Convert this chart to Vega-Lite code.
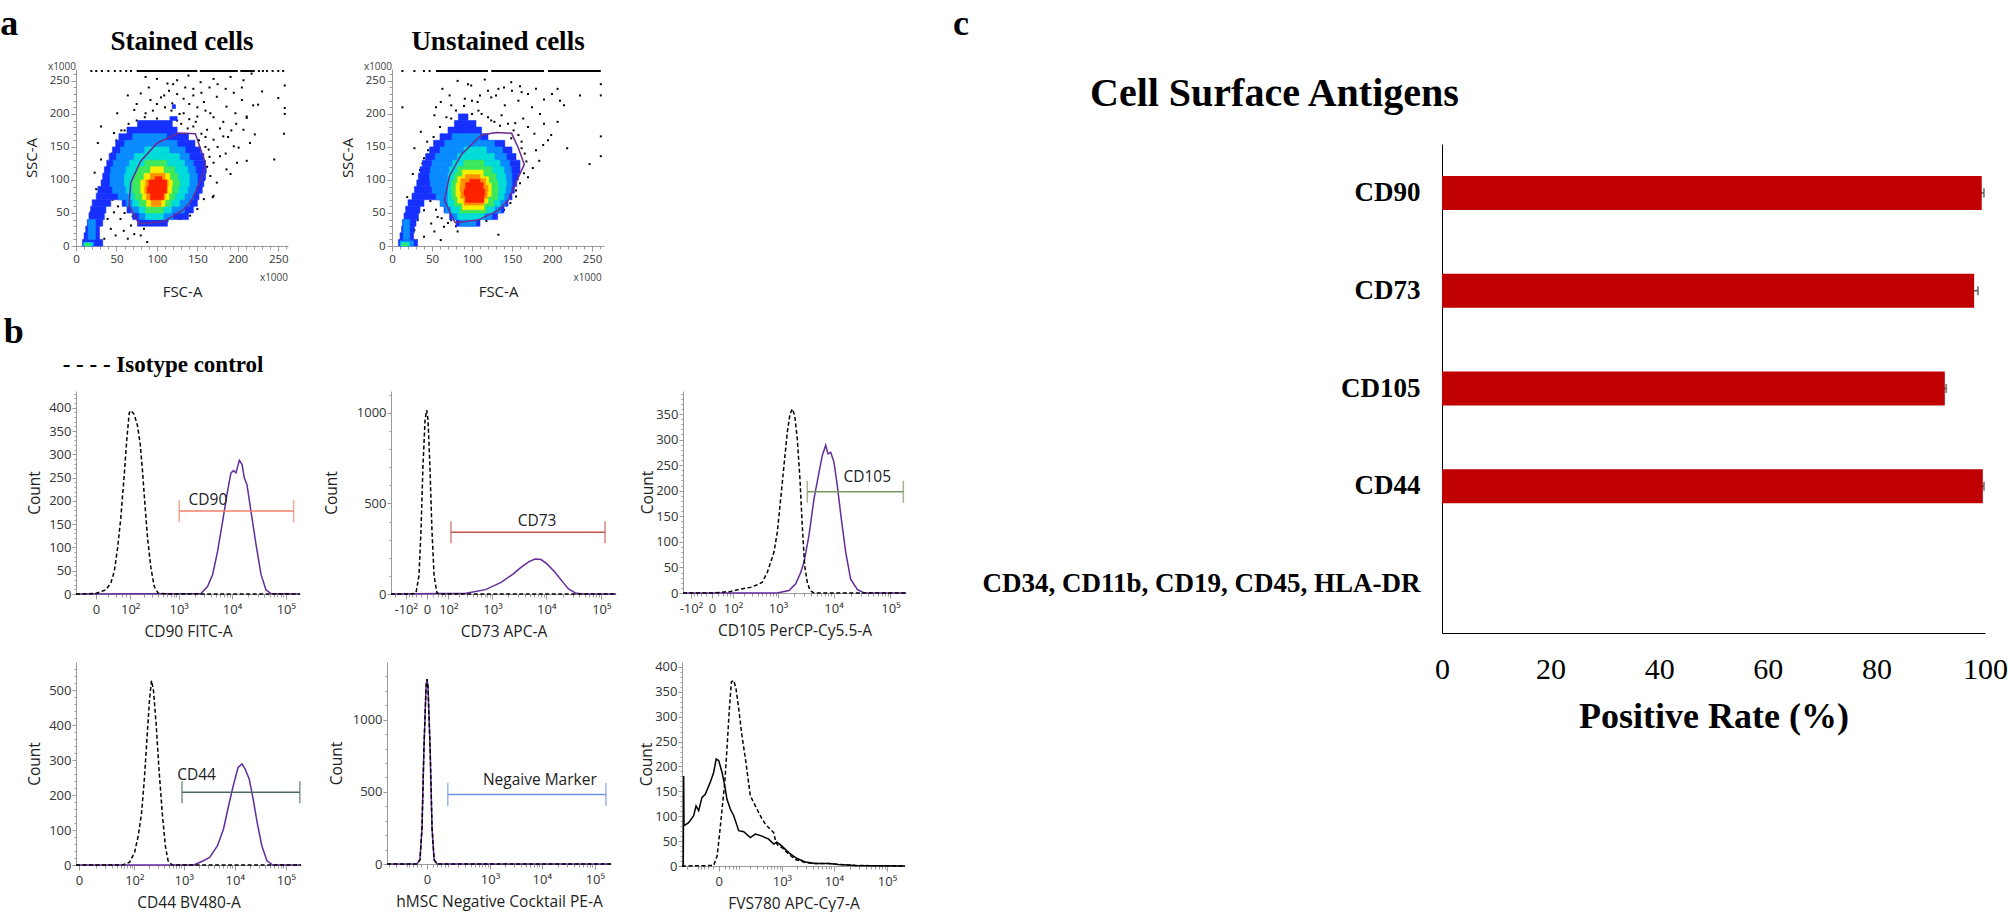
{
"$schema": "https://vega.github.io/schema/vega-lite/v6.json",
"background": "white",
"padding": {"left": 0, "top": 6, "right": 0, "bottom": 0},
"config": {
  "view": {"stroke": null},
  "title": {"font": "Liberation Serif", "fontWeight": "bold", "color": "black"},
  "axis": {"grid": false, "labelFont": "Open Sans", "titleFont": "Open Sans", "labelColor": "#333333", "titleColor": "#222222", "titleFontWeight": "normal", "domainColor": "#9a9a9a", "tickColor": "#9a9a9a", "labelOverlap": false, "labelFlush": false, "labelFontSize": 13, "titleFontSize": 15.5, "labelPadding": 1, "minExtent": 0, "tickCount": 500},
  "axisY": {"titlePadding": 6, "minExtent": 0},
  "axisX": {"titlePadding": 8, "labelPadding": 4}
},
"datasets": {
  "dens": [
    {"p":"S","l":1,"y0":0,"y1":10,"x0":8,"x1":33},{"p":"S","l":1,"y0":10,"y1":20,"x0":10,"x1":29},{"p":"S","l":1,"y0":20,"y1":30,"x0":12,"x1":29},{"p":"S","l":1,"y0":30,"y1":40,"x0":14,"x1":33},{"p":"S","l":1,"y0":30,"y1":40,"x0":76,"x1":113},{"p":"S","l":1,"y0":40,"y1":50,"x0":16,"x1":35},{"p":"S","l":1,"y0":40,"y1":50,"x0":70,"x1":139},{"p":"S","l":1,"y0":50,"y1":60,"x0":18,"x1":37},{"p":"S","l":1,"y0":50,"y1":60,"x0":63,"x1":145},{"p":"S","l":1,"y0":60,"y1":70,"x0":20,"x1":43},{"p":"S","l":1,"y0":60,"y1":70,"x0":57,"x1":150},{"p":"S","l":1,"y0":70,"y1":80,"x0":25,"x1":152},{"p":"S","l":1,"y0":80,"y1":90,"x0":27,"x1":156},{"p":"S","l":1,"y0":90,"y1":100,"x0":31,"x1":158},{"p":"S","l":1,"y0":100,"y1":110,"x0":33,"x1":160},{"p":"S","l":1,"y0":110,"y1":120,"x0":35,"x1":161},{"p":"S","l":1,"y0":120,"y1":130,"x0":38,"x1":160},{"p":"S","l":1,"y0":130,"y1":140,"x0":41,"x1":158},{"p":"S","l":1,"y0":140,"y1":150,"x0":45,"x1":154},{"p":"S","l":1,"y0":150,"y1":160,"x0":49,"x1":147},{"p":"S","l":1,"y0":160,"y1":170,"x0":53,"x1":139},{"p":"S","l":1,"y0":170,"y1":180,"x0":63,"x1":125},{"p":"S","l":1,"y0":180,"y1":190,"x0":76,"x1":119},{"p":"S","l":1,"y0":190,"y1":196,"x0":116,"x1":125},{"p":"S","l":1,"y0":208,"y1":214,"x0":119,"x1":123},
    {"p":"S","l":2,"y0":0,"y1":6,"x0":9,"x1":22},{"p":"S","l":2,"y0":10,"y1":40,"x0":15,"x1":24},{"p":"S","l":2,"y0":40,"y1":50,"x0":78,"x1":120},{"p":"S","l":2,"y0":50,"y1":60,"x0":68,"x1":134},{"p":"S","l":2,"y0":60,"y1":70,"x0":62,"x1":140},{"p":"S","l":2,"y0":70,"y1":80,"x0":52,"x1":145},{"p":"S","l":2,"y0":80,"y1":90,"x0":45,"x1":148},{"p":"S","l":2,"y0":90,"y1":100,"x0":42,"x1":150},{"p":"S","l":2,"y0":100,"y1":110,"x0":42,"x1":150},{"p":"S","l":2,"y0":110,"y1":120,"x0":43,"x1":148},{"p":"S","l":2,"y0":120,"y1":130,"x0":46,"x1":145},{"p":"S","l":2,"y0":130,"y1":140,"x0":50,"x1":140},{"p":"S","l":2,"y0":140,"y1":150,"x0":55,"x1":135},{"p":"S","l":2,"y0":150,"y1":160,"x0":60,"x1":125},{"p":"S","l":2,"y0":160,"y1":170,"x0":70,"x1":112},
    {"p":"S","l":3,"y0":0,"y1":5,"x0":10,"x1":20},{"p":"S","l":3,"y0":40,"y1":50,"x0":86,"x1":108},{"p":"S","l":3,"y0":50,"y1":60,"x0":78,"x1":118},{"p":"S","l":3,"y0":60,"y1":70,"x0":70,"x1":128},{"p":"S","l":3,"y0":70,"y1":80,"x0":66,"x1":134},{"p":"S","l":3,"y0":80,"y1":90,"x0":62,"x1":138},{"p":"S","l":3,"y0":90,"y1":100,"x0":60,"x1":140},{"p":"S","l":3,"y0":100,"y1":110,"x0":60,"x1":140},{"p":"S","l":3,"y0":110,"y1":120,"x0":62,"x1":138},{"p":"S","l":3,"y0":120,"y1":130,"x0":66,"x1":134},{"p":"S","l":3,"y0":130,"y1":140,"x0":72,"x1":128},{"p":"S","l":3,"y0":140,"y1":150,"x0":85,"x1":115},
    {"p":"S","l":4,"y0":0,"y1":4,"x0":11,"x1":17},{"p":"S","l":4,"y0":50,"y1":60,"x0":86,"x1":108},{"p":"S","l":4,"y0":60,"y1":70,"x0":78,"x1":117},{"p":"S","l":4,"y0":70,"y1":80,"x0":73,"x1":122},{"p":"S","l":4,"y0":80,"y1":90,"x0":70,"x1":126},{"p":"S","l":4,"y0":90,"y1":100,"x0":70,"x1":128},{"p":"S","l":4,"y0":100,"y1":110,"x0":72,"x1":126},{"p":"S","l":4,"y0":110,"y1":120,"x0":76,"x1":122},{"p":"S","l":4,"y0":120,"y1":130,"x0":85,"x1":112},
    {"p":"S","l":5,"y0":60,"y1":70,"x0":87,"x1":110},{"p":"S","l":5,"y0":70,"y1":80,"x0":82,"x1":115},{"p":"S","l":5,"y0":80,"y1":90,"x0":80,"x1":118},{"p":"S","l":5,"y0":90,"y1":100,"x0":80,"x1":119},{"p":"S","l":5,"y0":100,"y1":110,"x0":84,"x1":116},{"p":"S","l":5,"y0":110,"y1":120,"x0":92,"x1":108},
    {"p":"S","l":6,"y0":60,"y1":70,"x0":93,"x1":105},{"p":"S","l":6,"y0":70,"y1":80,"x0":87,"x1":110},{"p":"S","l":6,"y0":80,"y1":90,"x0":85,"x1":113},{"p":"S","l":6,"y0":90,"y1":100,"x0":86,"x1":114},{"p":"S","l":6,"y0":100,"y1":110,"x0":92,"x1":110},
    {"p":"S","l":7,"y0":70,"y1":80,"x0":92,"x1":108},{"p":"S","l":7,"y0":80,"y1":90,"x0":88,"x1":112},{"p":"S","l":7,"y0":90,"y1":100,"x0":90,"x1":112},{"p":"S","l":7,"y0":100,"y1":105,"x0":98,"x1":106},
    {"p":"U","l":1,"y0":0,"y1":10,"x0":8,"x1":32},{"p":"U","l":1,"y0":10,"y1":20,"x0":10,"x1":27},{"p":"U","l":1,"y0":20,"y1":30,"x0":12,"x1":28},{"p":"U","l":1,"y0":30,"y1":40,"x0":13,"x1":30},{"p":"U","l":1,"y0":30,"y1":40,"x0":80,"x1":110},{"p":"U","l":1,"y0":40,"y1":50,"x0":15,"x1":33},{"p":"U","l":1,"y0":40,"y1":50,"x0":72,"x1":132},{"p":"U","l":1,"y0":50,"y1":60,"x0":17,"x1":35},{"p":"U","l":1,"y0":50,"y1":60,"x0":65,"x1":140},{"p":"U","l":1,"y0":60,"y1":70,"x0":20,"x1":40},{"p":"U","l":1,"y0":60,"y1":70,"x0":62,"x1":145},{"p":"U","l":1,"y0":70,"y1":80,"x0":25,"x1":150},{"p":"U","l":1,"y0":80,"y1":90,"x0":28,"x1":153},{"p":"U","l":1,"y0":90,"y1":100,"x0":31,"x1":156},{"p":"U","l":1,"y0":100,"y1":110,"x0":33,"x1":158},{"p":"U","l":1,"y0":110,"y1":120,"x0":35,"x1":160},{"p":"U","l":1,"y0":120,"y1":130,"x0":38,"x1":160},{"p":"U","l":1,"y0":130,"y1":140,"x0":42,"x1":155},{"p":"U","l":1,"y0":140,"y1":150,"x0":47,"x1":150},{"p":"U","l":1,"y0":150,"y1":160,"x0":52,"x1":141},{"p":"U","l":1,"y0":160,"y1":170,"x0":60,"x1":120},{"p":"U","l":1,"y0":170,"y1":180,"x0":70,"x1":112},{"p":"U","l":1,"y0":180,"y1":190,"x0":78,"x1":105},{"p":"U","l":1,"y0":190,"y1":200,"x0":83,"x1":95},
    {"p":"U","l":2,"y0":0,"y1":8,"x0":10,"x1":27},{"p":"U","l":2,"y0":10,"y1":40,"x0":14,"x1":22},{"p":"U","l":2,"y0":30,"y1":40,"x0":85,"x1":105},{"p":"U","l":2,"y0":40,"y1":50,"x0":75,"x1":125},{"p":"U","l":2,"y0":50,"y1":60,"x0":66,"x1":136},{"p":"U","l":2,"y0":60,"y1":70,"x0":60,"x1":142},{"p":"U","l":2,"y0":70,"y1":80,"x0":55,"x1":146},{"p":"U","l":2,"y0":80,"y1":90,"x0":50,"x1":149},{"p":"U","l":2,"y0":90,"y1":100,"x0":48,"x1":150},{"p":"U","l":2,"y0":100,"y1":110,"x0":47,"x1":150},{"p":"U","l":2,"y0":110,"y1":120,"x0":48,"x1":149},{"p":"U","l":2,"y0":120,"y1":130,"x0":50,"x1":147},{"p":"U","l":2,"y0":130,"y1":140,"x0":54,"x1":143},{"p":"U","l":2,"y0":140,"y1":150,"x0":60,"x1":138},{"p":"U","l":2,"y0":150,"y1":160,"x0":66,"x1":128},{"p":"U","l":2,"y0":160,"y1":170,"x0":75,"x1":110},
    {"p":"U","l":3,"y0":0,"y1":6,"x0":11,"x1":22},{"p":"U","l":3,"y0":40,"y1":50,"x0":82,"x1":115},{"p":"U","l":3,"y0":50,"y1":60,"x0":74,"x1":128},{"p":"U","l":3,"y0":60,"y1":70,"x0":70,"x1":135},{"p":"U","l":3,"y0":70,"y1":80,"x0":70,"x1":140},{"p":"U","l":3,"y0":80,"y1":90,"x0":70,"x1":142},{"p":"U","l":3,"y0":90,"y1":100,"x0":70,"x1":143},{"p":"U","l":3,"y0":100,"y1":110,"x0":70,"x1":142},{"p":"U","l":3,"y0":110,"y1":120,"x0":72,"x1":140},{"p":"U","l":3,"y0":120,"y1":130,"x0":76,"x1":135},{"p":"U","l":3,"y0":130,"y1":140,"x0":82,"x1":128},{"p":"U","l":3,"y0":140,"y1":150,"x0":90,"x1":118},
    {"p":"U","l":4,"y0":0,"y1":4,"x0":13,"x1":19},{"p":"U","l":4,"y0":50,"y1":60,"x0":85,"x1":118},{"p":"U","l":4,"y0":60,"y1":70,"x0":78,"x1":127},{"p":"U","l":4,"y0":70,"y1":80,"x0":75,"x1":132},{"p":"U","l":4,"y0":80,"y1":90,"x0":74,"x1":133},{"p":"U","l":4,"y0":90,"y1":100,"x0":75,"x1":132},{"p":"U","l":4,"y0":100,"y1":110,"x0":78,"x1":130},{"p":"U","l":4,"y0":110,"y1":120,"x0":82,"x1":125},{"p":"U","l":4,"y0":120,"y1":130,"x0":90,"x1":115},
    {"p":"U","l":5,"y0":55,"y1":65,"x0":88,"x1":115},{"p":"U","l":5,"y0":65,"y1":75,"x0":82,"x1":120},{"p":"U","l":5,"y0":75,"y1":85,"x0":80,"x1":124},{"p":"U","l":5,"y0":85,"y1":95,"x0":80,"x1":124},{"p":"U","l":5,"y0":95,"y1":105,"x0":82,"x1":121},{"p":"U","l":5,"y0":105,"y1":115,"x0":88,"x1":114},
    {"p":"U","l":6,"y0":62,"y1":72,"x0":90,"x1":114},{"p":"U","l":6,"y0":72,"y1":82,"x0":86,"x1":119},{"p":"U","l":6,"y0":82,"y1":92,"x0":85,"x1":120},{"p":"U","l":6,"y0":92,"y1":102,"x0":86,"x1":117},{"p":"U","l":6,"y0":102,"y1":108,"x0":92,"x1":110},
    {"p":"U","l":7,"y0":66,"y1":76,"x0":92,"x1":115},{"p":"U","l":7,"y0":76,"y1":86,"x0":90,"x1":116},{"p":"U","l":7,"y0":86,"y1":96,"x0":92,"x1":114},{"p":"U","l":7,"y0":96,"y1":101,"x0":97,"x1":110}
  ],
  "dots": [
    {"p":"S","x":86,"y":256},{"p":"S","x":100,"y":253},{"p":"S","x":113,"y":246},{"p":"S","x":125,"y":251},{"p":"S","x":139,"y":258},{"p":"S","x":154,"y":248},{"p":"S","x":170,"y":253},{"p":"S","x":191,"y":256},{"p":"S","x":207,"y":251},{"p":"S","x":217,"y":261},{"p":"S","x":64,"y":228},{"p":"S","x":80,"y":231},{"p":"S","x":92,"y":221},{"p":"S","x":109,"y":228},{"p":"S","x":119,"y":216},{"p":"S","x":133,"y":223},{"p":"S","x":145,"y":228},{"p":"S","x":158,"y":218},{"p":"S","x":174,"y":226},{"p":"S","x":186,"y":211},{"p":"S","x":205,"y":221},{"p":"S","x":219,"y":213},{"p":"S","x":51,"y":201},{"p":"S","x":72,"y":206},{"p":"S","x":86,"y":201},{"p":"S","x":100,"y":193},{"p":"S","x":133,"y":201},{"p":"S","x":150,"y":196},{"p":"S","x":166,"y":201},{"p":"S","x":182,"y":188},{"p":"S","x":197,"y":201},{"p":"S","x":211,"y":196},{"p":"S","x":31,"y":181},{"p":"S","x":47,"y":171},{"p":"S","x":145,"y":181},{"p":"S","x":162,"y":176},{"p":"S","x":170,"y":161},{"p":"S","x":182,"y":166},{"p":"S","x":195,"y":151},{"p":"S","x":207,"y":176},{"p":"S","x":215,"y":156},{"p":"S","x":27,"y":156},{"p":"S","x":31,"y":131},{"p":"S","x":164,"y":146},{"p":"S","x":170,"y":126},{"p":"S","x":178,"y":136},{"p":"S","x":186,"y":116},{"p":"S","x":199,"y":126},{"p":"S","x":166,"y":106},{"p":"S","x":174,"y":96},{"p":"S","x":170,"y":76},{"p":"S","x":158,"y":71},{"p":"S","x":150,"y":56},{"p":"S","x":141,"y":46},{"p":"S","x":39,"y":41},{"p":"S","x":43,"y":26},{"p":"S","x":49,"y":16},{"p":"S","x":35,"y":11},{"p":"S","x":59,"y":23},{"p":"S","x":68,"y":31},{"p":"S","x":55,"y":41},{"p":"S","x":47,"y":51},{"p":"S","x":72,"y":18},{"p":"S","x":84,"y":26},{"p":"S","x":96,"y":33},{"p":"S","x":113,"y":38},{"p":"S","x":129,"y":41},{"p":"S","x":88,"y":6},{"p":"S","x":64,"y":11},{"p":"S","x":80,"y":16},{"p":"S","x":23,"y":111},{"p":"S","x":25,"y":86},{"p":"S","x":27,"y":66},{"p":"S","x":35,"y":96},{"p":"S","x":18,"y":51},{"p":"S","x":258,"y":243},{"p":"S","x":258,"y":209},{"p":"S","x":258,"y":200},{"p":"S","x":257,"y":170},{"p":"S","x":245,"y":131},{"p":"S","x":250,"y":224},{"p":"S","x":225,"y":214},{"p":"S","x":230,"y":234},{"p":"S","x":211,"y":194},{"p":"S","x":221,"y":169},{"p":"S","x":201,"y":149},{"p":"S","x":211,"y":129},{"p":"S","x":191,"y":109},{"p":"S","x":169,"y":74},
    {"p":"S","x":125,"y":190},{"p":"S","x":130,"y":185},{"p":"S","x":140,"y":192},{"p":"S","x":148,"y":188},{"p":"S","x":155,"y":170},{"p":"S","x":160,"y":165},{"p":"S","x":138,"y":178},{"p":"S","x":128,"y":200},{"p":"S","x":118,"y":205},{"p":"S","x":110,"y":210},{"p":"S","x":100,"y":215},{"p":"S","x":95,"y":205},{"p":"S","x":85,"y":195},{"p":"S","x":75,"y":190},{"p":"S","x":65,"y":185},{"p":"S","x":60,"y":175},{"p":"S","x":152,"y":160},{"p":"S","x":160,"y":150},{"p":"S","x":165,"y":135},{"p":"S","x":162,"y":120},{"p":"S","x":158,"y":100},{"p":"S","x":155,"y":90},{"p":"S","x":150,"y":80},{"p":"S","x":145,"y":70},{"p":"S","x":135,"y":60},{"p":"S","x":125,"y":50},{"p":"S","x":115,"y":45},{"p":"S","x":100,"y":40},{"p":"S","x":90,"y":40},{"p":"S","x":80,"y":38},{"p":"S","x":70,"y":45},{"p":"S","x":60,"y":50},{"p":"S","x":52,"y":60},{"p":"S","x":45,"y":70},{"p":"S","x":40,"y":80},{"p":"S","x":38,"y":90},{"p":"S","x":35,"y":105},{"p":"S","x":40,"y":120},{"p":"S","x":44,"y":140},{"p":"S","x":50,"y":160},{"p":"S","x":56,"y":175},{"p":"S","x":105,"y":225},{"p":"S","x":115,"y":235},{"p":"S","x":125,"y":230},{"p":"S","x":135,"y":240},{"p":"S","x":145,"y":238},{"p":"S","x":155,"y":232},{"p":"S","x":165,"y":240},{"p":"S","x":175,"y":245},{"p":"S","x":185,"y":238},{"p":"S","x":195,"y":232},{"p":"S","x":205,"y":240},{"p":"S","x":120,"y":245},{"p":"S","x":90,"y":240},{"p":"S","x":75,"y":215},{"p":"S","x":140,"y":215},{"p":"S","x":150,"y":210},{"p":"S","x":160,"y":205},{"p":"S","x":170,"y":195},{"p":"S","x":178,"y":178},{"p":"S","x":188,"y":165},{"p":"S","x":175,"y":150},{"p":"S","x":185,"y":140},{"p":"S","x":192,"y":175},{"p":"S","x":198,"y":185},
    {"p":"S","x":19,"y":265},{"p":"S","x":25,"y":265},{"p":"S","x":32,"y":265},{"p":"S","x":40,"y":265},{"p":"S","x":48,"y":265},{"p":"S","x":55,"y":265},{"p":"S","x":62,"y":265},{"p":"S","x":68,"y":265},{"p":"S","x":226,"y":265},{"p":"S","x":231,"y":265},{"p":"S","x":236,"y":265},{"p":"S","x":243,"y":265},{"p":"S","x":250,"y":265},{"p":"S","x":256,"y":265},
    {"p":"U","x":13,"y":210},{"p":"U","x":63,"y":238},{"p":"U","x":82,"y":250},{"p":"U","x":99,"y":243},{"p":"U","x":116,"y":252},{"p":"U","x":133,"y":238},{"p":"U","x":149,"y":248},{"p":"U","x":162,"y":233},{"p":"U","x":61,"y":218},{"p":"U","x":74,"y":213},{"p":"U","x":91,"y":223},{"p":"U","x":107,"y":218},{"p":"U","x":124,"y":225},{"p":"U","x":141,"y":213},{"p":"U","x":158,"y":220},{"p":"U","x":53,"y":198},{"p":"U","x":74,"y":193},{"p":"U","x":112,"y":200},{"p":"U","x":124,"y":190},{"p":"U","x":137,"y":198},{"p":"U","x":154,"y":186},{"p":"U","x":164,"y":193},{"p":"U","x":36,"y":173},{"p":"U","x":44,"y":158},{"p":"U","x":149,"y":163},{"p":"U","x":162,"y":148},{"p":"U","x":40,"y":133},{"p":"U","x":28,"y":148},{"p":"U","x":26,"y":109},{"p":"U","x":19,"y":74},{"p":"U","x":32,"y":39},{"p":"U","x":40,"y":54},{"p":"U","x":49,"y":34},{"p":"U","x":57,"y":44},{"p":"U","x":40,"y":14},{"p":"U","x":53,"y":22},{"p":"U","x":65,"y":29},{"p":"U","x":74,"y":39},{"p":"U","x":28,"y":24},{"p":"U","x":61,"y":9},{"p":"U","x":82,"y":22},{"p":"U","x":133,"y":17},{"p":"U","x":261,"y":245},{"p":"U","x":261,"y":228},{"p":"U","x":261,"y":166},{"p":"U","x":261,"y":136},{"p":"U","x":247,"y":124},{"p":"U","x":235,"y":228},{"p":"U","x":215,"y":213},{"p":"U","x":207,"y":188},{"p":"U","x":199,"y":168},{"p":"U","x":189,"y":153},{"p":"U","x":219,"y":148},{"p":"U","x":207,"y":238},{"p":"U","x":184,"y":129},{"p":"U","x":170,"y":104},{"p":"U","x":155,"y":84},
    {"p":"U","x":120,"y":195},{"p":"U","x":128,"y":188},{"p":"U","x":135,"y":182},{"p":"U","x":145,"y":185},{"p":"U","x":152,"y":175},{"p":"U","x":158,"y":168},{"p":"U","x":162,"y":158},{"p":"U","x":166,"y":140},{"p":"U","x":168,"y":128},{"p":"U","x":165,"y":110},{"p":"U","x":160,"y":95},{"p":"U","x":155,"y":75},{"p":"U","x":148,"y":65},{"p":"U","x":140,"y":55},{"p":"U","x":130,"y":45},{"p":"U","x":118,"y":38},{"p":"U","x":105,"y":35},{"p":"U","x":92,"y":33},{"p":"U","x":80,"y":30},{"p":"U","x":70,"y":35},{"p":"U","x":62,"y":42},{"p":"U","x":55,"y":55},{"p":"U","x":48,"y":68},{"p":"U","x":42,"y":80},{"p":"U","x":38,"y":95},{"p":"U","x":35,"y":115},{"p":"U","x":38,"y":125},{"p":"U","x":45,"y":145},{"p":"U","x":52,"y":165},{"p":"U","x":60,"y":180},{"p":"U","x":68,"y":195},{"p":"U","x":80,"y":205},{"p":"U","x":90,"y":212},{"p":"U","x":100,"y":220},{"p":"U","x":110,"y":228},{"p":"U","x":120,"y":235},{"p":"U","x":130,"y":228},{"p":"U","x":140,"y":240},{"p":"U","x":150,"y":235},{"p":"U","x":160,"y":242},{"p":"U","x":170,"y":230},{"p":"U","x":180,"y":238},{"p":"U","x":190,"y":222},{"p":"U","x":200,"y":230},{"p":"U","x":210,"y":220},{"p":"U","x":175,"y":210},{"p":"U","x":185,"y":200},{"p":"U","x":170,"y":180},{"p":"U","x":178,"y":170},{"p":"U","x":190,"y":185},{"p":"U","x":195,"y":160},{"p":"U","x":180,"y":145},{"p":"U","x":176,"y":118},{"p":"U","x":95,"y":245},{"p":"U","x":72,"y":228},{"p":"U","x":55,"y":210},{"p":"U","x":108,"y":205},{"p":"U","x":100,"y":200},
    {"p":"U","x":13,"y":265},{"p":"U","x":28,"y":265},{"p":"U","x":40,"y":265},{"p":"U","x":47,"y":265}
  ],
  "tops": [
    {"p":"S","x0":75,"x1":150,"y":265},{"p":"S","x0":153,"x1":200,"y":265},{"p":"S","x0":203,"x1":221,"y":265},
    {"p":"U","x0":55,"x1":120,"y":265},{"p":"U","x0":124,"x1":190,"y":265},{"p":"U","x0":195,"x1":261,"y":265}
  ],
  "gatepoly": [
    {"p":"S","i":0,"x":77.9,"y":33.5},{"p":"S","i":1,"x":65.6,"y":61},{"p":"S","i":2,"x":67.6,"y":96},{"p":"S","i":3,"x":79.9,"y":128.5},{"p":"S","i":4,"x":100.4,"y":156},{"p":"S","i":5,"x":127,"y":171},{"p":"S","i":6,"x":147.5,"y":170},{"p":"S","i":7,"x":159.8,"y":126},{"p":"S","i":8,"x":157.8,"y":111},{"p":"S","i":9,"x":149.6,"y":86},{"p":"S","i":10,"x":141.4,"y":66},{"p":"S","i":11,"x":131,"y":53.5},{"p":"S","i":12,"x":108.6,"y":37},{"p":"S","i":13,"x":77.9,"y":33.5},
    {"p":"U","i":0,"x":78.9,"y":35.2},{"p":"U","i":1,"x":65.5,"y":69},{"p":"U","i":2,"x":71.8,"y":106},{"p":"U","i":3,"x":86.5,"y":138.4},{"p":"U","i":4,"x":111.7,"y":168},{"p":"U","i":5,"x":130.6,"y":172},{"p":"U","i":6,"x":149.5,"y":170.6},{"p":"U","i":7,"x":157.9,"y":148.3},{"p":"U","i":8,"x":165.4,"y":123.5},{"p":"U","i":9,"x":155.8,"y":98.7},{"p":"U","i":10,"x":145.3,"y":69},{"p":"U","i":11,"x":132.7,"y":54},{"p":"U","i":12,"x":107.5,"y":39.2},{"p":"U","i":13,"x":78.9,"y":35.2}
  ],
  "mult": [
    {"p":"S","x":0,"y":271,"t":"x1000"},{"p":"S","x":262,"y":-48,"t":"x1000"},
    {"p":"U","x":0,"y":271,"t":"x1000"},{"p":"U","x":262,"y":-48,"t":"x1000"}
  ],
  "hist": [
    {"panel":"CD90","s":"S","v":-40,"c":0},{"panel":"CD90","s":"S","v":2637,"c":1},{"panel":"CD90","s":"S","v":3500,"c":16},{"panel":"CD90","s":"S","v":4370,"c":42},{"panel":"CD90","s":"S","v":5400,"c":92},{"panel":"CD90","s":"S","v":6700,"c":156},{"panel":"CD90","s":"S","v":8070,"c":214},{"panel":"CD90","s":"S","v":9570,"c":260},{"panel":"CD90","s":"S","v":10700,"c":265},{"panel":"CD90","s":"S","v":11860,"c":260},{"panel":"CD90","s":"S","v":13700,"c":287},{"panel":"CD90","s":"S","v":15400,"c":278},{"panel":"CD90","s":"S","v":17000,"c":249},{"panel":"CD90","s":"S","v":19000,"c":235},{"panel":"CD90","s":"S","v":22500,"c":178},{"panel":"CD90","s":"S","v":28000,"c":106},{"panel":"CD90","s":"S","v":34600,"c":42},{"panel":"CD90","s":"S","v":42700,"c":9},{"panel":"CD90","s":"S","v":53000,"c":1},{"panel":"CD90","s":"S","v":183000,"c":0},
    {"panel":"CD90","s":"I","v":-40,"c":0},{"panel":"CD90","s":"I","v":0,"c":1},{"panel":"CD90","s":"I","v":16,"c":9},{"panel":"CD90","s":"I","v":27,"c":24},{"panel":"CD90","s":"I","v":36,"c":49},{"panel":"CD90","s":"I","v":46,"c":99},{"panel":"CD90","s":"I","v":57,"c":163},{"panel":"CD90","s":"I","v":71,"c":257},{"panel":"CD90","s":"I","v":83,"c":335},{"panel":"CD90","s":"I","v":95,"c":389},{"panel":"CD90","s":"I","v":104,"c":394},{"panel":"CD90","s":"I","v":124,"c":386},{"panel":"CD90","s":"I","v":148,"c":361},{"panel":"CD90","s":"I","v":170,"c":321},{"panel":"CD90","s":"I","v":190,"c":264},{"panel":"CD90","s":"I","v":214,"c":192},{"panel":"CD90","s":"I","v":243,"c":120},{"panel":"CD90","s":"I","v":285,"c":56},{"panel":"CD90","s":"I","v":333,"c":16},{"panel":"CD90","s":"I","v":399,"c":2},{"panel":"CD90","s":"I","v":600,"c":0},{"panel":"CD90","s":"I","v":183000,"c":0},
    {"panel":"CD73","s":"S","v":-244,"c":0},{"panel":"CD73","s":"S","v":286,"c":4},{"panel":"CD73","s":"S","v":731,"c":24},{"panel":"CD73","s":"S","v":1460,"c":64},{"panel":"CD73","s":"S","v":2450,"c":110},{"panel":"CD73","s":"S","v":3440,"c":147},{"panel":"CD73","s":"S","v":4840,"c":179},{"panel":"CD73","s":"S","v":6230,"c":193},{"panel":"CD73","s":"S","v":8020,"c":190},{"panel":"CD73","s":"S","v":10320,"c":166},{"panel":"CD73","s":"S","v":14420,"c":120},{"panel":"CD73","s":"S","v":20160,"c":64},{"panel":"CD73","s":"S","v":25340,"c":28},{"panel":"CD73","s":"S","v":34720,"c":4},{"panel":"CD73","s":"S","v":48440,"c":0},{"panel":"CD73","s":"S","v":184000,"c":0},
    {"panel":"CD73","s":"I","v":-244,"c":0},{"panel":"CD73","s":"I","v":-66,"c":0},{"panel":"CD73","s":"I","v":-41,"c":5},{"panel":"CD73","s":"I","v":-28,"c":100},{"panel":"CD73","s":"I","v":-20,"c":350},{"panel":"CD73","s":"I","v":-13,"c":700},{"panel":"CD73","s":"I","v":-6,"c":960},{"panel":"CD73","s":"I","v":-1,"c":1015},{"panel":"CD73","s":"I","v":3,"c":960},{"panel":"CD73","s":"I","v":9,"c":700},{"panel":"CD73","s":"I","v":16,"c":350},{"panel":"CD73","s":"I","v":24,"c":100},{"panel":"CD73","s":"I","v":36,"c":5},{"panel":"CD73","s":"I","v":55,"c":0},{"panel":"CD73","s":"I","v":184000,"c":0},
    {"panel":"CD105","s":"S","v":-166,"c":0},{"panel":"CD105","s":"S","v":956,"c":0},{"panel":"CD105","s":"S","v":1597,"c":5},{"panel":"CD105","s":"S","v":2118,"c":18},{"panel":"CD105","s":"S","v":2610,"c":40},{"panel":"CD105","s":"S","v":2985,"c":60},{"panel":"CD105","s":"S","v":3665,"c":112},{"panel":"CD105","s":"S","v":4508,"c":184},{"panel":"CD105","s":"S","v":5535,"c":236},{"panel":"CD105","s":"S","v":6340,"c":269},{"panel":"CD105","s":"S","v":7275,"c":289},{"panel":"CD105","s":"S","v":7990,"c":272},{"panel":"CD105","s":"S","v":8910,"c":275},{"panel":"CD105","s":"S","v":10190,"c":256},{"panel":"CD105","s":"S","v":11650,"c":210},{"panel":"CD105","s":"S","v":13710,"c":145},{"panel":"CD105","s":"S","v":16380,"c":80},{"panel":"CD105","s":"S","v":20030,"c":27},{"panel":"CD105","s":"S","v":26180,"c":7},{"panel":"CD105","s":"S","v":34360,"c":0},{"panel":"CD105","s":"S","v":187000,"c":0},
    {"panel":"CD105","s":"I","v":-166,"c":0},{"panel":"CD105","s":"I","v":0,"c":0},{"panel":"CD105","s":"I","v":84,"c":3},{"panel":"CD105","s":"I","v":197,"c":9},{"panel":"CD105","s":"I","v":282,"c":11},{"panel":"CD105","s":"I","v":391,"c":16},{"panel":"CD105","s":"I","v":495,"c":21},{"panel":"CD105","s":"I","v":622,"c":40},{"panel":"CD105","s":"I","v":725,"c":60},{"panel":"CD105","s":"I","v":839,"c":80},{"panel":"CD105","s":"I","v":969,"c":119},{"panel":"CD105","s":"I","v":1122,"c":184},{"panel":"CD105","s":"I","v":1292,"c":249},{"panel":"CD105","s":"I","v":1487,"c":314},{"panel":"CD105","s":"I","v":1665,"c":350},{"panel":"CD105","s":"I","v":1838,"c":360},{"panel":"CD105","s":"I","v":2032,"c":347},{"panel":"CD105","s":"I","v":2265,"c":301},{"panel":"CD105","s":"I","v":2528,"c":223},{"panel":"CD105","s":"I","v":2782,"c":132},{"panel":"CD105","s":"I","v":3076,"c":53},{"panel":"CD105","s":"I","v":3428,"c":21},{"panel":"CD105","s":"I","v":3825,"c":5},{"panel":"CD105","s":"I","v":4508,"c":0},{"panel":"CD105","s":"I","v":187000,"c":0},
    {"panel":"CD44","s":"S","v":-1.3,"c":0},{"panel":"CD44","s":"S","v":1576,"c":0},{"panel":"CD44","s":"S","v":2254,"c":10},{"panel":"CD44","s":"S","v":3222,"c":22},{"panel":"CD44","s":"S","v":4600,"c":55},{"panel":"CD44","s":"S","v":6030,"c":103},{"panel":"CD44","s":"S","v":7600,"c":170},{"panel":"CD44","s":"S","v":9380,"c":227},{"panel":"CD44","s":"S","v":11650,"c":279},{"panel":"CD44","s":"S","v":13880,"c":289},{"panel":"CD44","s":"S","v":16030,"c":274},{"panel":"CD44","s":"S","v":19200,"c":246},{"panel":"CD44","s":"S","v":22900,"c":189},{"panel":"CD44","s":"S","v":27440,"c":122},{"panel":"CD44","s":"S","v":33900,"c":55},{"panel":"CD44","s":"S","v":42650,"c":12},{"panel":"CD44","s":"S","v":55900,"c":0},{"panel":"CD44","s":"S","v":198000,"c":0},
    {"panel":"CD44","s":"I","v":-1.3,"c":0},{"panel":"CD44","s":"I","v":55,"c":0},{"panel":"CD44","s":"I","v":79,"c":8},{"panel":"CD44","s":"I","v":101,"c":36},{"panel":"CD44","s":"I","v":121,"c":84},{"panel":"CD44","s":"I","v":142,"c":150},{"panel":"CD44","s":"I","v":162,"c":246},{"panel":"CD44","s":"I","v":185,"c":370},{"panel":"CD44","s":"I","v":207,"c":474},{"panel":"CD44","s":"I","v":227,"c":527},{"panel":"CD44","s":"I","v":249,"c":498},{"panel":"CD44","s":"I","v":283,"c":398},{"panel":"CD44","s":"I","v":321,"c":274},{"panel":"CD44","s":"I","v":373,"c":150},{"panel":"CD44","s":"I","v":430,"c":55},{"panel":"CD44","s":"I","v":489,"c":12},{"panel":"CD44","s":"I","v":585,"c":0},{"panel":"CD44","s":"I","v":198000,"c":0},
    {"panel":"hMSC","s":"S","v":-326,"c":0},{"panel":"hMSC","s":"S","v":-38,"c":0},{"panel":"hMSC","s":"S","v":-25,"c":30},{"panel":"hMSC","s":"S","v":-17,"c":250},{"panel":"hMSC","s":"S","v":-10,"c":800},{"panel":"hMSC","s":"S","v":-3,"c":1230},{"panel":"hMSC","s":"S","v":0,"c":1281},{"panel":"hMSC","s":"S","v":3,"c":1230},{"panel":"hMSC","s":"S","v":10,"c":800},{"panel":"hMSC","s":"S","v":17,"c":250},{"panel":"hMSC","s":"S","v":25,"c":30},{"panel":"hMSC","s":"S","v":38,"c":0},{"panel":"hMSC","s":"S","v":201500,"c":0},
    {"panel":"hMSC","s":"I","v":-326,"c":0},{"panel":"hMSC","s":"I","v":-38,"c":0},{"panel":"hMSC","s":"I","v":-25,"c":30},{"panel":"hMSC","s":"I","v":-17,"c":250},{"panel":"hMSC","s":"I","v":-10,"c":800},{"panel":"hMSC","s":"I","v":-3,"c":1230},{"panel":"hMSC","s":"I","v":0,"c":1281},{"panel":"hMSC","s":"I","v":3,"c":1230},{"panel":"hMSC","s":"I","v":10,"c":800},{"panel":"hMSC","s":"I","v":17,"c":250},{"panel":"hMSC","s":"I","v":25,"c":30},{"panel":"hMSC","s":"I","v":38,"c":0},{"panel":"hMSC","s":"I","v":201500,"c":0},
    {"panel":"FVS","s":"S","v":-271,"c":0},{"panel":"FVS","s":"S","v":-253,"c":0},{"panel":"FVS","s":"S","v":-247,"c":181},{"panel":"FVS","s":"S","v":-243,"c":81},{"panel":"FVS","s":"S","v":-186,"c":87},{"panel":"FVS","s":"S","v":-136,"c":101},{"panel":"FVS","s":"S","v":-116,"c":121},{"panel":"FVS","s":"S","v":-96,"c":111},{"panel":"FVS","s":"S","v":-74,"c":138},{"panel":"FVS","s":"S","v":-55,"c":144},{"panel":"FVS","s":"S","v":-31,"c":168},{"panel":"FVS","s":"S","v":-17,"c":188},{"panel":"FVS","s":"S","v":-8,"c":215},{"panel":"FVS","s":"S","v":0,"c":212},{"panel":"FVS","s":"S","v":11,"c":188},{"panel":"FVS","s":"S","v":21,"c":161},{"panel":"FVS","s":"S","v":30,"c":134},{"panel":"FVS","s":"S","v":46,"c":114},{"panel":"FVS","s":"S","v":64,"c":101},{"panel":"FVS","s":"S","v":96,"c":71},{"panel":"FVS","s":"S","v":136,"c":69},{"panel":"FVS","s":"S","v":204,"c":57},{"panel":"FVS","s":"S","v":270,"c":64},{"panel":"FVS","s":"S","v":384,"c":60},{"panel":"FVS","s":"S","v":536,"c":54},{"panel":"FVS","s":"S","v":682,"c":44},{"panel":"FVS","s":"S","v":797,"c":48},{"panel":"FVS","s":"S","v":1006,"c":40},{"panel":"FVS","s":"S","v":1365,"c":27},{"panel":"FVS","s":"S","v":1984,"c":15},{"panel":"FVS","s":"S","v":2870,"c":8},{"panel":"FVS","s":"S","v":4460,"c":5},{"panel":"FVS","s":"S","v":8010,"c":5},{"panel":"FVS","s":"S","v":12360,"c":3},{"panel":"FVS","s":"S","v":25380,"c":1},{"panel":"FVS","s":"S","v":190900,"c":0},{"panel":"FVS","s":"S","v":217000,"c":0},
    {"panel":"FVS","s":"I","v":-271,"c":0},{"panel":"FVS","s":"I","v":-17,"c":1},{"panel":"FVS","s":"I","v":-5,"c":20},{"panel":"FVS","s":"I","v":2,"c":60},{"panel":"FVS","s":"I","v":11,"c":114},{"panel":"FVS","s":"I","v":21,"c":168},{"panel":"FVS","s":"I","v":30,"c":235},{"panel":"FVS","s":"I","v":41,"c":316},{"panel":"FVS","s":"I","v":51,"c":370},{"panel":"FVS","s":"I","v":64,"c":373},{"panel":"FVS","s":"I","v":78,"c":356},{"panel":"FVS","s":"I","v":96,"c":316},{"panel":"FVS","s":"I","v":121,"c":262},{"panel":"FVS","s":"I","v":157,"c":208},{"panel":"FVS","s":"I","v":204,"c":141},{"panel":"FVS","s":"I","v":270,"c":121},{"panel":"FVS","s":"I","v":351,"c":101},{"panel":"FVS","s":"I","v":453,"c":84},{"panel":"FVS","s":"I","v":579,"c":74},{"panel":"FVS","s":"I","v":682,"c":67},{"panel":"FVS","s":"I","v":760,"c":47},{"panel":"FVS","s":"I","v":863,"c":40},{"panel":"FVS","s":"I","v":1006,"c":37},{"panel":"FVS","s":"I","v":1265,"c":27},{"panel":"FVS","s":"I","v":1841,"c":13},{"panel":"FVS","s":"I","v":2870,"c":7},{"panel":"FVS","s":"I","v":4460,"c":5},{"panel":"FVS","s":"I","v":8010,"c":5},{"panel":"FVS","s":"I","v":12360,"c":3},{"panel":"FVS","s":"I","v":25380,"c":1},{"panel":"FVS","s":"I","v":217000,"c":0}
  ],
  "gates": [
    {"panel":"CD90","g0":1026,"g1":139500,"gy":178,"lx":3564,"ly":201,"t":"CD90"},
    {"panel":"CD73","g0":120,"g1":116400,"gy":341,"lx":6780,"ly":403,"t":"CD73"},
    {"panel":"CD105","g0":3428,"g1":167900,"gy":198,"lx":39200,"ly":226,"t":"CD105"},
    {"panel":"CD44","g0":922,"g1":187700,"gy":208,"lx":1782,"ly":257,"t":"CD44"},
    {"panel":"hMSC","g0":102,"g1":161700,"gy":482,"lx":9170,"ly":580,"t":"Negaive Marker"}
  ],
  "antigens": [
    {"marker":"CD90","rate":99.4,"lo":99.0,"hi":99.8},
    {"marker":"CD73","rate":98.0,"lo":97.3,"hi":98.7},
    {"marker":"CD105","rate":92.6,"lo":92.35,"hi":92.85},
    {"marker":"CD44","rate":99.6,"lo":99.4,"hi":99.8},
    {"marker":"CD34, CD11b, CD19, CD45, HLA-DR","rate":0,"lo":null,"hi":null}
  ]
},
"spacing": 43,
"hconcat": [
 {
  "spacing": 14,
  "vconcat": [
   {
    "title": {"text": "a", "anchor": "start", "fontSize": 36, "dx": -24, "offset": -15},
    "spacing": 51,
    "hconcat": [
     {
      "width": 212, "height": 177,
      "title": {"text": "Stained cells", "fontSize": 27, "offset": 6},
      "layer": [
       {"data": {"name": "dots"}, "transform": [{"filter": "datum.p === 'S'"}], "mark": {"type": "square", "size": 4, "color": "black", "opacity": 1},
        "encoding": {
         "x": {"field": "x", "type": "quantitative", "scale": {"domain": [0, 262], "nice": false}, "axis": {"title": "FSC-A", "format": "d", "tickCount": 500, "values": [0,10,20,30,40,50,60,70,80,90,100,110,120,130,140,150,160,170,180,190,200,210,220,230,240,250,260], "labelExpr": "datum.value % 50 === 0 ? datum.label : ''", "labelOverlap": false, "labelFontSize": {"condition": {"test": "datum.value % 50 === 0", "value": 11.5}, "value": 0}, "tickSize": {"condition": {"test": "datum.value % 50 === 0", "value": 5}, "value": 3}, "titleFontSize": 15, "labelPadding": 2, "titlePadding": 20}},
         "y": {"field": "y", "type": "quantitative", "scale": {"domain": [0, 268], "nice": false}, "axis": {"title": "SSC-A", "format": "d", "tickCount": 500, "values": [0,10,20,30,40,50,60,70,80,90,100,110,120,130,140,150,160,170,180,190,200,210,220,230,240,250,260], "labelExpr": "datum.value % 50 === 0 ? datum.label : ''", "labelOverlap": false, "labelFontSize": {"condition": {"test": "datum.value % 50 === 0", "value": 11.5}, "value": 0}, "tickSize": {"condition": {"test": "datum.value % 50 === 0", "value": 5}, "value": 3}, "titleFontSize": 15, "labelPadding": 2, "titlePadding": 10}}
        }},
       {"data": {"name": "tops"}, "transform": [{"filter": "datum.p === 'S'"}], "mark": {"type": "rule", "color": "black", "strokeWidth": 2},
        "encoding": {"x": {"field": "x0", "type": "quantitative"}, "x2": {"field": "x1"}, "y": {"field": "y", "type": "quantitative"}}},
       {"data": {"name": "dens"}, "transform": [{"filter": "datum.p === 'S'"}], "mark": {"type": "rect", "strokeWidth": 0.6},
        "encoding": {"x": {"field": "x0", "type": "quantitative"}, "x2": {"field": "x1"}, "y": {"field": "y0", "type": "quantitative"}, "y2": {"field": "y1"},
         "color": {"field": "l", "type": "ordinal", "scale": {"domain": [1,2,3,4,5,6,7], "range": ["#1530ff","#0a8cff","#00dcd8","#3ee85a","#f5ee00","#ff9000","#ff2000"]}, "legend": null},
         "stroke": {"field": "l", "type": "ordinal", "scale": {"domain": [1,2,3,4,5,6,7], "range": ["#1530ff","#0a8cff","#00dcd8","#3ee85a","#f5ee00","#ff9000","#ff2000"]}, "legend": null}}},
       {"data": {"name": "gatepoly"}, "transform": [{"filter": "datum.p === 'S'"}], "mark": {"type": "line", "color": "#6a2c91", "strokeWidth": 1.5},
        "encoding": {"x": {"field": "x", "type": "quantitative"}, "y": {"field": "y", "type": "quantitative"}, "order": {"field": "i", "type": "quantitative"}}},
       {"data": {"name": "mult"}, "transform": [{"filter": "datum.p === 'S'"}], "mark": {"type": "text", "font": "Open Sans", "fontSize": 10, "color": "#444444", "align": "right", "baseline": "middle"},
        "encoding": {"x": {"field": "x", "type": "quantitative"}, "y": {"field": "y", "type": "quantitative"}, "text": {"field": "t"}}}
      ]
     },
     {
      "width": 212, "height": 177,
      "title": {"text": "Unstained cells", "fontSize": 27, "offset": 6},
      "layer": [
       {"data": {"name": "dots"}, "transform": [{"filter": "datum.p === 'U'"}], "mark": {"type": "square", "size": 4, "color": "black", "opacity": 1},
        "encoding": {
         "x": {"field": "x", "type": "quantitative", "scale": {"domain": [0, 265], "nice": false}, "axis": {"title": "FSC-A", "format": "d", "tickCount": 500, "values": [0,10,20,30,40,50,60,70,80,90,100,110,120,130,140,150,160,170,180,190,200,210,220,230,240,250,260], "labelExpr": "datum.value % 50 === 0 ? datum.label : ''", "labelOverlap": false, "labelFontSize": {"condition": {"test": "datum.value % 50 === 0", "value": 11.5}, "value": 0}, "tickSize": {"condition": {"test": "datum.value % 50 === 0", "value": 5}, "value": 3}, "titleFontSize": 15, "labelPadding": 2, "titlePadding": 20}},
         "y": {"field": "y", "type": "quantitative", "scale": {"domain": [0, 268], "nice": false}, "axis": {"title": "SSC-A", "format": "d", "tickCount": 500, "values": [0,10,20,30,40,50,60,70,80,90,100,110,120,130,140,150,160,170,180,190,200,210,220,230,240,250,260], "labelExpr": "datum.value % 50 === 0 ? datum.label : ''", "labelOverlap": false, "labelFontSize": {"condition": {"test": "datum.value % 50 === 0", "value": 11.5}, "value": 0}, "tickSize": {"condition": {"test": "datum.value % 50 === 0", "value": 5}, "value": 3}, "titleFontSize": 15, "labelPadding": 2, "titlePadding": 10}}
        }},
       {"data": {"name": "tops"}, "transform": [{"filter": "datum.p === 'U'"}], "mark": {"type": "rule", "color": "black", "strokeWidth": 2},
        "encoding": {"x": {"field": "x0", "type": "quantitative"}, "x2": {"field": "x1"}, "y": {"field": "y", "type": "quantitative"}}},
       {"data": {"name": "dens"}, "transform": [{"filter": "datum.p === 'U'"}], "mark": {"type": "rect", "strokeWidth": 0.6},
        "encoding": {"x": {"field": "x0", "type": "quantitative"}, "x2": {"field": "x1"}, "y": {"field": "y0", "type": "quantitative"}, "y2": {"field": "y1"},
         "color": {"field": "l", "type": "ordinal", "scale": {"domain": [1,2,3,4,5,6,7], "range": ["#1530ff","#0a8cff","#00dcd8","#3ee85a","#f5ee00","#ff9000","#ff2000"]}, "legend": null},
         "stroke": {"field": "l", "type": "ordinal", "scale": {"domain": [1,2,3,4,5,6,7], "range": ["#1530ff","#0a8cff","#00dcd8","#3ee85a","#f5ee00","#ff9000","#ff2000"]}, "legend": null}}},
       {"data": {"name": "gatepoly"}, "transform": [{"filter": "datum.p === 'U'"}], "mark": {"type": "line", "color": "#6a2c91", "strokeWidth": 1.5},
        "encoding": {"x": {"field": "x", "type": "quantitative"}, "y": {"field": "y", "type": "quantitative"}, "order": {"field": "i", "type": "quantitative"}}},
       {"data": {"name": "mult"}, "transform": [{"filter": "datum.p === 'U'"}], "mark": {"type": "text", "font": "Open Sans", "fontSize": 10, "color": "#444444", "align": "right", "baseline": "middle"},
        "encoding": {"x": {"field": "x", "type": "quantitative"}, "y": {"field": "y", "type": "quantitative"}, "text": {"field": "t"}}}
      ]
     }
    ]
   },
   {
    "title": {"text": "b", "anchor": "start", "fontSize": 36, "dx": -24, "offset": 3},
    "spacing": 20,
    "vconcat": [
     {
      "title": {"text": "- - - -   Isotype control", "anchor": "start", "fontSize": 23, "dx": 35, "offset": 14},
      "spacing": 21,
      "hconcat": [
       {
        "width": 224, "height": 203,
        "data": {"name": "hist"},
        "layer": [
         {"transform": [{"filter": "datum.panel === 'CD90' && datum.s === 'S'"}], "mark": {"type": "line", "color": "#632c9a", "strokeWidth": 1.5},
          "encoding": {
           "x": {"field": "v", "type": "quantitative", "scale": {"type": "symlog", "constant": 30, "domain": [-40, 183000], "nice": false, "zero": false}, "axis": {"title": "CD90 FITC-A", "tickCount": 500, "values": [0,20,40,60,80,100,200,300,400,500,600,700,800,900,1000,2000,3000,4000,5000,6000,7000,8000,9000,10000,20000,30000,40000,50000,60000,70000,80000,90000,100000], "labelOverlap": false, "labelExpr": "datum.value === 0 ? '0' : datum.value === 100 ? '10²' : datum.value === 1000 ? '10³' : datum.value === 10000 ? '10⁴' : datum.value === 100000 ? '10⁵' : ''", "labelFontSize": {"condition": {"test": "indexof([0,100,1000,10000,100000], datum.value) >= 0", "value": 13}, "value": 0}, "tickSize": {"condition": {"test": "indexof([0,100,1000,10000,100000], datum.value) >= 0", "value": 5}, "value": 3}}},
           "y": {"field": "c", "type": "quantitative", "scale": {"domain": [0, 436], "nice": false}, "axis": {"title": "Count", "format": "d", "titlePadding": 6, "tickCount": 500, "values": [0,10,20,30,40,50,60,70,80,90,100,110,120,130,140,150,160,170,180,190,200,210,220,230,240,250,260,270,280,290,300,310,320,330,340,350,360,370,380,390,400,410,420,430], "labelOverlap": false, "labelExpr": "datum.value % 50 === 0 ? datum.label : ''", "labelFontSize": {"condition": {"test": "datum.value % 50 === 0", "value": 13}, "value": 0}, "tickSize": {"condition": {"test": "datum.value % 50 === 0", "value": 4}, "value": 2}}}
          }},
         {"transform": [{"filter": "datum.panel === 'CD90' && datum.s === 'I'"}], "mark": {"type": "line", "color": "black", "strokeWidth": 1.5, "strokeDash": [4, 2.5]},
          "encoding": {"x": {"field": "v", "type": "quantitative"}, "y": {"field": "c", "type": "quantitative"}}},
         {"data": {"name": "gates"}, "transform": [{"filter": "datum.panel === 'CD90'"}], "mark": {"type": "rule", "color": "#f0806c", "strokeWidth": 1.5},
          "encoding": {"x": {"field": "g0", "type": "quantitative"}, "x2": {"field": "g1"}, "y": {"field": "gy", "type": "quantitative"}}},
         {"data": {"name": "gates"}, "transform": [{"filter": "datum.panel === 'CD90'"}], "mark": {"type": "tick", "orient": "vertical", "size": 22, "thickness": 1.5, "color": "#f0806c"},
          "encoding": {"x": {"field": "g0", "type": "quantitative"}, "y": {"field": "gy", "type": "quantitative"}}},
         {"data": {"name": "gates"}, "transform": [{"filter": "datum.panel === 'CD90'"}], "mark": {"type": "tick", "orient": "vertical", "size": 22, "thickness": 1.5, "color": "#f0806c"},
          "encoding": {"x": {"field": "g1", "type": "quantitative"}, "y": {"field": "gy", "type": "quantitative"}}},
         {"data": {"name": "gates"}, "transform": [{"filter": "datum.panel === 'CD90'"}], "mark": {"type": "text", "font": "Open Sans", "fontSize": 15.5, "color": "#222222"},
          "encoding": {"x": {"field": "lx", "type": "quantitative"}, "y": {"field": "ly", "type": "quantitative"}, "text": {"field": "t"}}}
        ]
       },
       {
        "width": 225, "height": 203,
        "data": {"name": "hist"},
        "layer": [
         {"transform": [{"filter": "datum.panel === 'CD73' && datum.s === 'S'"}], "mark": {"type": "line", "color": "#632c9a", "strokeWidth": 1.5},
          "encoding": {
           "x": {"field": "v", "type": "quantitative", "scale": {"type": "symlog", "constant": 70, "domain": [-244, 184000], "nice": false, "zero": false}, "axis": {"title": "CD73 APC-A", "tickCount": 500, "values": [-200,-100,-80,-60,-40,-20,0,20,40,60,80,100,200,300,400,500,600,700,800,900,1000,2000,3000,4000,5000,6000,7000,8000,9000,10000,20000,30000,40000,50000,60000,70000,80000,90000,100000], "labelOverlap": false, "labelExpr": "datum.value === 0 ? '0' : datum.value === 100 ? '10²' : datum.value === 1000 ? '10³' : datum.value === 10000 ? '10⁴' : datum.value === 100000 ? '10⁵' : datum.value === -100 ? '-10²' : ''", "labelFontSize": {"condition": {"test": "indexof([-100,0,100,1000,10000,100000], datum.value) >= 0", "value": 13}, "value": 0}, "tickSize": {"condition": {"test": "indexof([-100,0,100,1000,10000,100000], datum.value) >= 0", "value": 5}, "value": 3}}},
           "y": {"field": "c", "type": "quantitative", "scale": {"domain": [0, 1120], "nice": false}, "axis": {"title": "Count", "format": "d", "titlePadding": 17, "tickCount": 500, "values": [0,100,200,300,400,500,600,700,800,900,1000,1100], "labelOverlap": false, "labelExpr": "datum.value % 500 === 0 ? datum.label : ''", "labelFontSize": {"condition": {"test": "datum.value % 500 === 0", "value": 13}, "value": 0}, "tickSize": {"condition": {"test": "datum.value % 500 === 0", "value": 4}, "value": 2}}}
          }},
         {"transform": [{"filter": "datum.panel === 'CD73' && datum.s === 'I'"}], "mark": {"type": "line", "color": "black", "strokeWidth": 1.5, "strokeDash": [4, 2.5]},
          "encoding": {"x": {"field": "v", "type": "quantitative"}, "y": {"field": "c", "type": "quantitative"}}},
         {"data": {"name": "gates"}, "transform": [{"filter": "datum.panel === 'CD73'"}], "mark": {"type": "rule", "color": "#c4524e", "strokeWidth": 1.5},
          "encoding": {"x": {"field": "g0", "type": "quantitative"}, "x2": {"field": "g1"}, "y": {"field": "gy", "type": "quantitative"}}},
         {"data": {"name": "gates"}, "transform": [{"filter": "datum.panel === 'CD73'"}], "mark": {"type": "tick", "orient": "vertical", "size": 22, "thickness": 1.5, "color": "#c4524e"},
          "encoding": {"x": {"field": "g0", "type": "quantitative"}, "y": {"field": "gy", "type": "quantitative"}}},
         {"data": {"name": "gates"}, "transform": [{"filter": "datum.panel === 'CD73'"}], "mark": {"type": "tick", "orient": "vertical", "size": 22, "thickness": 1.5, "color": "#c4524e"},
          "encoding": {"x": {"field": "g1", "type": "quantitative"}, "y": {"field": "gy", "type": "quantitative"}}},
         {"data": {"name": "gates"}, "transform": [{"filter": "datum.panel === 'CD73'"}], "mark": {"type": "text", "font": "Open Sans", "fontSize": 15.5, "color": "#222222"},
          "encoding": {"x": {"field": "lx", "type": "quantitative"}, "y": {"field": "ly", "type": "quantitative"}, "text": {"field": "t"}}}
        ]
       },
       {
        "width": 223, "height": 202,
        "data": {"name": "hist"},
        "layer": [
         {"transform": [{"filter": "datum.panel === 'CD105' && datum.s === 'S'"}], "mark": {"type": "line", "color": "#632c9a", "strokeWidth": 1.5},
          "encoding": {
           "x": {"field": "v", "type": "quantitative", "scale": {"type": "symlog", "constant": 75, "domain": [-166, 187000], "nice": false, "zero": false}, "axis": {"title": "CD105 PerCP-Cy5.5-A", "tickCount": 500, "values": [-100,-80,-60,-40,-20,0,20,40,60,80,100,200,300,400,500,600,700,800,900,1000,2000,3000,4000,5000,6000,7000,8000,9000,10000,20000,30000,40000,50000,60000,70000,80000,90000,100000], "labelOverlap": false, "labelExpr": "datum.value === 0 ? '0' : datum.value === 100 ? '10²' : datum.value === 1000 ? '10³' : datum.value === 10000 ? '10⁴' : datum.value === 100000 ? '10⁵' : datum.value === -100 ? '-10²' : ''", "labelFontSize": {"condition": {"test": "indexof([-100,0,100,1000,10000,100000], datum.value) >= 0", "value": 13}, "value": 0}, "tickSize": {"condition": {"test": "indexof([-100,0,100,1000,10000,100000], datum.value) >= 0", "value": 5}, "value": 3}}},
           "y": {"field": "c", "type": "quantitative", "scale": {"domain": [0, 395], "nice": false}, "axis": {"title": "Count", "format": "d", "titlePadding": 0, "tickCount": 500, "values": [0,10,20,30,40,50,60,70,80,90,100,110,120,130,140,150,160,170,180,190,200,210,220,230,240,250,260,270,280,290,300,310,320,330,340,350,360,370,380,390], "labelOverlap": false, "labelExpr": "datum.value % 50 === 0 ? datum.label : ''", "labelFontSize": {"condition": {"test": "datum.value % 50 === 0", "value": 13}, "value": 0}, "tickSize": {"condition": {"test": "datum.value % 50 === 0", "value": 4}, "value": 2}}}
          }},
         {"transform": [{"filter": "datum.panel === 'CD105' && datum.s === 'I'"}], "mark": {"type": "line", "color": "black", "strokeWidth": 1.5, "strokeDash": [4, 2.5]},
          "encoding": {"x": {"field": "v", "type": "quantitative"}, "y": {"field": "c", "type": "quantitative"}}},
         {"data": {"name": "gates"}, "transform": [{"filter": "datum.panel === 'CD105'"}], "mark": {"type": "rule", "color": "#7a9660", "strokeWidth": 1.5},
          "encoding": {"x": {"field": "g0", "type": "quantitative"}, "x2": {"field": "g1"}, "y": {"field": "gy", "type": "quantitative"}}},
         {"data": {"name": "gates"}, "transform": [{"filter": "datum.panel === 'CD105'"}], "mark": {"type": "tick", "orient": "vertical", "size": 22, "thickness": 1.5, "color": "#7a9660"},
          "encoding": {"x": {"field": "g0", "type": "quantitative"}, "y": {"field": "gy", "type": "quantitative"}}},
         {"data": {"name": "gates"}, "transform": [{"filter": "datum.panel === 'CD105'"}], "mark": {"type": "tick", "orient": "vertical", "size": 22, "thickness": 1.5, "color": "#7a9660"},
          "encoding": {"x": {"field": "g1", "type": "quantitative"}, "y": {"field": "gy", "type": "quantitative"}}},
         {"data": {"name": "gates"}, "transform": [{"filter": "datum.panel === 'CD105'"}], "mark": {"type": "text", "font": "Open Sans", "fontSize": 15.5, "color": "#222222"},
          "encoding": {"x": {"field": "lx", "type": "quantitative"}, "y": {"field": "ly", "type": "quantitative"}, "text": {"field": "t"}}}
        ]
       }
      ]
     },
     {
      "spacing": 25,
      "hconcat": [
       {
        "width": 225, "height": 203,
        "data": {"name": "hist"},
        "layer": [
         {"transform": [{"filter": "datum.panel === 'CD44' && datum.s === 'S'"}], "mark": {"type": "line", "color": "#632c9a", "strokeWidth": 1.5},
          "encoding": {
           "x": {"field": "v", "type": "quantitative", "scale": {"type": "symlog", "constant": 9, "domain": [-1.3, 198000], "nice": false, "zero": false}, "axis": {"title": "CD44 BV480-A", "tickCount": 500, "values": [0,10,20,30,40,50,60,70,80,90,100,200,300,400,500,600,700,800,900,1000,2000,3000,4000,5000,6000,7000,8000,9000,10000,20000,30000,40000,50000,60000,70000,80000,90000,100000], "labelOverlap": false, "labelExpr": "datum.value === 0 ? '0' : datum.value === 100 ? '10²' : datum.value === 1000 ? '10³' : datum.value === 10000 ? '10⁴' : datum.value === 100000 ? '10⁵' : ''", "labelFontSize": {"condition": {"test": "indexof([0,100,1000,10000,100000], datum.value) >= 0", "value": 13}, "value": 0}, "tickSize": {"condition": {"test": "indexof([0,100,1000,10000,100000], datum.value) >= 0", "value": 5}, "value": 3}}},
           "y": {"field": "c", "type": "quantitative", "scale": {"domain": [0, 580], "nice": false}, "axis": {"title": "Count", "format": "d", "titlePadding": 6, "tickCount": 500, "values": [0,20,40,60,80,100,120,140,160,180,200,220,240,260,280,300,320,340,360,380,400,420,440,460,480,500,520,540,560], "labelOverlap": false, "labelExpr": "datum.value % 100 === 0 ? datum.label : ''", "labelFontSize": {"condition": {"test": "datum.value % 100 === 0", "value": 13}, "value": 0}, "tickSize": {"condition": {"test": "datum.value % 100 === 0", "value": 4}, "value": 2}}}
          }},
         {"transform": [{"filter": "datum.panel === 'CD44' && datum.s === 'I'"}], "mark": {"type": "line", "color": "black", "strokeWidth": 1.5, "strokeDash": [4, 2.5]},
          "encoding": {"x": {"field": "v", "type": "quantitative"}, "y": {"field": "c", "type": "quantitative"}}},
         {"data": {"name": "gates"}, "transform": [{"filter": "datum.panel === 'CD44'"}], "mark": {"type": "rule", "color": "#4a6b62", "strokeWidth": 1.5},
          "encoding": {"x": {"field": "g0", "type": "quantitative"}, "x2": {"field": "g1"}, "y": {"field": "gy", "type": "quantitative"}}},
         {"data": {"name": "gates"}, "transform": [{"filter": "datum.panel === 'CD44'"}], "mark": {"type": "tick", "orient": "vertical", "size": 22, "thickness": 1.5, "color": "#4a6b62"},
          "encoding": {"x": {"field": "g0", "type": "quantitative"}, "y": {"field": "gy", "type": "quantitative"}}},
         {"data": {"name": "gates"}, "transform": [{"filter": "datum.panel === 'CD44'"}], "mark": {"type": "tick", "orient": "vertical", "size": 22, "thickness": 1.5, "color": "#4a6b62"},
          "encoding": {"x": {"field": "g1", "type": "quantitative"}, "y": {"field": "gy", "type": "quantitative"}}},
         {"data": {"name": "gates"}, "transform": [{"filter": "datum.panel === 'CD44'"}], "mark": {"type": "text", "font": "Open Sans", "fontSize": 15.5, "color": "#222222"},
          "encoding": {"x": {"field": "lx", "type": "quantitative"}, "y": {"field": "ly", "type": "quantitative"}, "text": {"field": "t"}}}
        ]
       },
       {
        "width": 224, "height": 202,
        "data": {"name": "hist"},
        "layer": [
         {"transform": [{"filter": "datum.panel === 'hMSC' && datum.s === 'S'"}], "mark": {"type": "line", "color": "#632c9a", "strokeWidth": 1.5},
          "encoding": {
           "x": {"field": "v", "type": "quantitative", "scale": {"type": "symlog", "constant": 70, "domain": [-326, 201500], "nice": false, "zero": false}, "axis": {"title": "hMSC Negative Cocktail PE-A", "tickCount": 500, "values": [-300,-200,-100,-80,-60,-40,-20,0,20,40,60,80,100,200,300,400,500,600,700,800,900,1000,2000,3000,4000,5000,6000,7000,8000,9000,10000,20000,30000,40000,50000,60000,70000,80000,90000,100000], "labelOverlap": false, "labelExpr": "datum.value === 0 ? '0' : datum.value === 1000 ? '10³' : datum.value === 10000 ? '10⁴' : datum.value === 100000 ? '10⁵' : ''", "labelFontSize": {"condition": {"test": "indexof([0,1000,10000,100000], datum.value) >= 0", "value": 13}, "value": 0}, "tickSize": {"condition": {"test": "indexof([0,1000,10000,100000], datum.value) >= 0", "value": 5}, "value": 3}}},
           "y": {"field": "c", "type": "quantitative", "scale": {"domain": [0, 1400], "nice": false}, "axis": {"title": "Count", "format": "d", "titlePadding": 8, "tickCount": 500, "values": [0,100,200,300,400,500,600,700,800,900,1000,1100,1200,1300], "labelOverlap": false, "labelExpr": "datum.value % 500 === 0 ? datum.label : ''", "labelFontSize": {"condition": {"test": "datum.value % 500 === 0", "value": 13}, "value": 0}, "tickSize": {"condition": {"test": "datum.value % 500 === 0", "value": 4}, "value": 2}}}
          }},
         {"transform": [{"filter": "datum.panel === 'hMSC' && datum.s === 'I'"}], "mark": {"type": "line", "color": "black", "strokeWidth": 1.5, "strokeDash": [4, 2.5]},
          "encoding": {"x": {"field": "v", "type": "quantitative"}, "y": {"field": "c", "type": "quantitative"}}},
         {"data": {"name": "gates"}, "transform": [{"filter": "datum.panel === 'hMSC'"}], "mark": {"type": "rule", "color": "#6f93ea", "strokeWidth": 1.5},
          "encoding": {"x": {"field": "g0", "type": "quantitative"}, "x2": {"field": "g1"}, "y": {"field": "gy", "type": "quantitative"}}},
         {"data": {"name": "gates"}, "transform": [{"filter": "datum.panel === 'hMSC'"}], "mark": {"type": "tick", "orient": "vertical", "size": 23, "thickness": 1.5, "color": "#6f93ea"},
          "encoding": {"x": {"field": "g0", "type": "quantitative"}, "y": {"field": "gy", "type": "quantitative"}}},
         {"data": {"name": "gates"}, "transform": [{"filter": "datum.panel === 'hMSC'"}], "mark": {"type": "tick", "orient": "vertical", "size": 23, "thickness": 1.5, "color": "#6f93ea"},
          "encoding": {"x": {"field": "g1", "type": "quantitative"}, "y": {"field": "gy", "type": "quantitative"}}},
         {"data": {"name": "gates"}, "transform": [{"filter": "datum.panel === 'hMSC'"}], "mark": {"type": "text", "font": "Open Sans", "fontSize": 15.5, "color": "#222222"},
          "encoding": {"x": {"field": "lx", "type": "quantitative"}, "y": {"field": "ly", "type": "quantitative"}, "text": {"field": "t"}}}
        ]
       },
       {
        "width": 223, "height": 204,
        "data": {"name": "hist"},
        "layer": [
         {"transform": [{"filter": "datum.panel === 'FVS' && datum.s === 'S'"}], "mark": {"type": "line", "color": "black", "strokeWidth": 1.5},
          "encoding": {
           "x": {"field": "v", "type": "quantitative", "scale": {"type": "symlog", "constant": 70, "domain": [-271, 217000], "nice": false, "zero": false}, "axis": {"title": "FVS780 APC-Cy7-A", "tickCount": 500, "values": [-200,-100,-80,-60,-40,-20,0,20,40,60,80,100,200,300,400,500,600,700,800,900,1000,2000,3000,4000,5000,6000,7000,8000,9000,10000,20000,30000,40000,50000,60000,70000,80000,90000,100000], "labelOverlap": false, "labelExpr": "datum.value === 0 ? '0' : datum.value === 1000 ? '10³' : datum.value === 10000 ? '10⁴' : datum.value === 100000 ? '10⁵' : ''", "labelFontSize": {"condition": {"test": "indexof([0,1000,10000,100000], datum.value) >= 0", "value": 13}, "value": 0}, "tickSize": {"condition": {"test": "indexof([0,1000,10000,100000], datum.value) >= 0", "value": 5}, "value": 3}}},
           "y": {"field": "c", "type": "quantitative", "scale": {"domain": [0, 410], "nice": false}, "axis": {"title": "Count", "format": "d", "titlePadding": 0, "tickCount": 500, "values": [0,10,20,30,40,50,60,70,80,90,100,110,120,130,140,150,160,170,180,190,200,210,220,230,240,250,260,270,280,290,300,310,320,330,340,350,360,370,380,390,400], "labelOverlap": false, "labelExpr": "datum.value % 50 === 0 ? datum.label : ''", "labelFontSize": {"condition": {"test": "datum.value % 50 === 0", "value": 13}, "value": 0}, "tickSize": {"condition": {"test": "datum.value % 50 === 0", "value": 4}, "value": 2}}}
          }},
         {"transform": [{"filter": "datum.panel === 'FVS' && datum.s === 'I'"}], "mark": {"type": "line", "color": "black", "strokeWidth": 1.5, "strokeDash": [4, 2.5]},
          "encoding": {"x": {"field": "v", "type": "quantitative"}, "y": {"field": "c", "type": "quantitative"}}}
        ]
       }
      ]
     }
    ]
   }
  ]
 },
 {
  "title": {"text": "c", "anchor": "start", "fontSize": 36, "dx": -29, "offset": 26},
  "spacing": 4,
  "vconcat": [
   {
    "width": 1, "height": 1,
    "data": {"values": []},
    "mark": {"type": "point", "opacity": 0},
    "encoding": {}
   },
   {
    "width": 543, "height": 489,
    "title": {"text": "Cell Surface Antigens", "anchor": "start", "fontSize": 40, "dx": 108, "offset": 30},
    "data": {"name": "antigens"},
    "encoding": {"y": {"field": "marker", "type": "nominal", "sort": null, "scale": {"domain": ["CD90","CD73","CD105","CD44","CD34, CD11b, CD19, CD45, HLA-DR"], "paddingInner": 0, "paddingOuter": 0}, "axis": {"title": null, "ticks": false, "domainColor": "black", "labelFont": "Liberation Serif", "labelFontSize": 27, "labelFontWeight": "bold", "labelColor": "black", "labelPadding": 22, "labelLimit": 700, "minExtent": 0, "maxExtent": 700}}},
    "layer": [
     {"mark": {"type": "rule", "color": "#595959", "strokeWidth": 1.5},
      "encoding": {"x": {"field": "lo", "type": "quantitative", "scale": {"domain": [0, 100], "nice": false}, "axis": {"title": "Positive Rate (%)", "format": "d", "values": [0,20,40,60,80,100], "labelOverlap": false, "ticks": false, "domainColor": "black", "labelFont": "Liberation Serif", "labelFontSize": 30, "labelColor": "black", "labelPadding": 21, "titleFont": "Liberation Serif", "titleFontSize": 36, "titleFontWeight": "bold", "titleColor": "black", "titlePadding": 15}}, "x2": {"field": "hi"}}},
     {"mark": {"type": "tick", "orient": "vertical", "size": 9, "thickness": 2, "color": "#595959"},
      "encoding": {"x": {"field": "hi", "type": "quantitative"}}},
     {"mark": {"type": "bar", "color": "#c00000", "height": 34},
      "encoding": {"x": {"field": "rate", "type": "quantitative"}}}
    ]
   }
  ]
 }
]
}
